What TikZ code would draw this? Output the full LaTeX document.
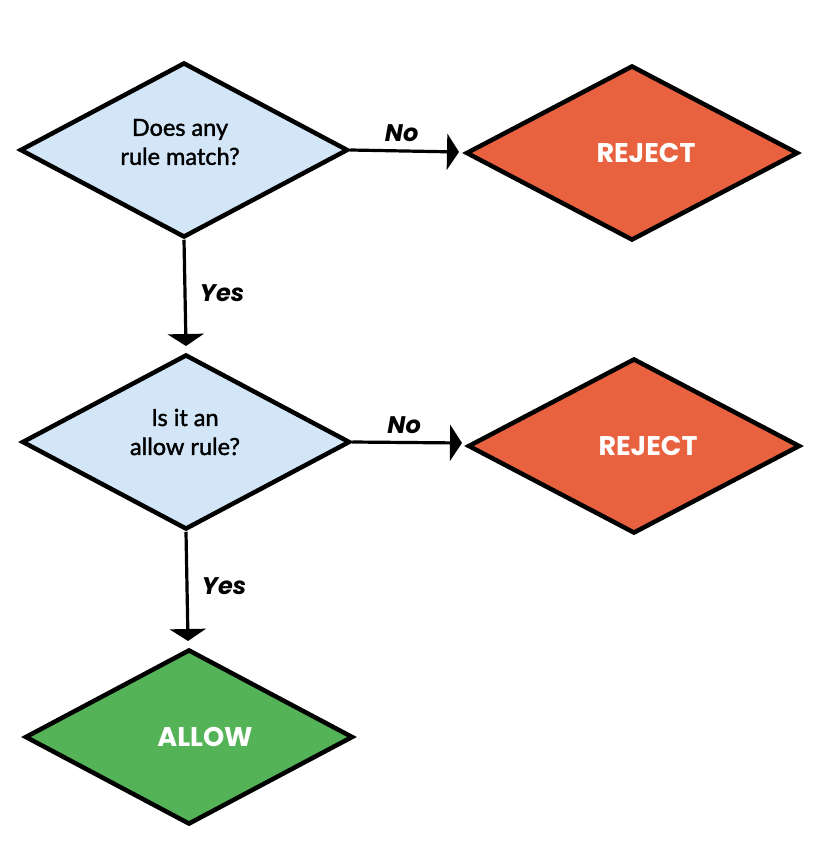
\documentclass[tikz,border=0pt]{standalone}
\usepackage{fontspec}
\setmainfont{Lato}
\newfontfamily\askfont[FakeBold=1.6]{Lato}
\newfontfamily\boldfont{Poppins}
\usepackage{tikz}
\usetikzlibrary{shapes.geometric, arrows.meta}
\definecolor{askblue}{HTML}{D3E6F8}
\definecolor{rejectred}{HTML}{E8623F}
\definecolor{allowgreen}{HTML}{55B357}
\tikzset{
    decision/.style = {diamond, draw = black, line width = 4.5pt, inner sep = 0pt,
        minimum width = 328pt, minimum height = 175pt},
    asktext/.style = {align = center, font = \askfont\fontsize{23.5}{29}\selectfont},
    endtext/.style = {text = white, font = \boldfont\bfseries\fontsize{27}{30}\selectfont},
    answer/.style = {font = \boldfont\bfseries\itshape\fontsize{24}{28}\selectfont},
    flow/.style = {line width = 3.2pt, -{Triangle[length = 12pt, width = 36pt]}}
}

\begin{document}
\begin{tikzpicture}[x = 1pt, y = -1pt]
    % Bordi
    \useasboundingbox (0,0) rectangle (830,862);
    % Rombi
    \node[decision, fill = askblue] (match) at (184,150) {};
    \node[decision, fill = askblue] (allowrule) at (186,442) {};
    \node[decision, fill = rejectred, minimum width = 332pt] (reject1) at (632,153) {};
    \node[decision, fill = rejectred, minimum width = 332pt] (reject2) at (634,446) {};
    \node[decision, fill = allowgreen] (allow) at (189,737) {};
    % Testi
    \node[asktext] (matchtext) at ([xshift = -4pt, yshift = 8pt]match) {Does any\\rule match?};
    \node[asktext] (allowruletext) at ([xshift = -1pt, yshift = 10pt]allowrule) {Is it an\\allow rule?};
    \node[endtext] (reject1text) at ([xshift = 14pt]reject1) {REJECT};
    \node[endtext] (reject2text) at ([xshift = 14pt]reject2) {REJECT};
    \node[endtext] (allowtext) at ([xshift = 16pt]allow) {ALLOW};
    % Frecce
    \coordinate (matchno) at (459,152);
    \coordinate (matchyes) at (186,346);
    \coordinate (allowruleno) at (462,443);
    \coordinate (allowruleyes) at (188,641);
    \draw[flow] (match.east) -- (matchno) node[answer, midway, above = 4pt, xshift = -3pt] {No};
    \draw[flow] (match.south) -- (matchyes) node[answer, midway, right = 10pt] {Yes};
    \draw[flow] (allowrule.east) -- (allowruleno) node[answer, midway, above = 4pt, xshift = -3pt] {No};
    \draw[flow] (allowrule.south) -- (allowruleyes) node[answer, midway, right = 10pt] {Yes};
\end{tikzpicture}
\end{document}
